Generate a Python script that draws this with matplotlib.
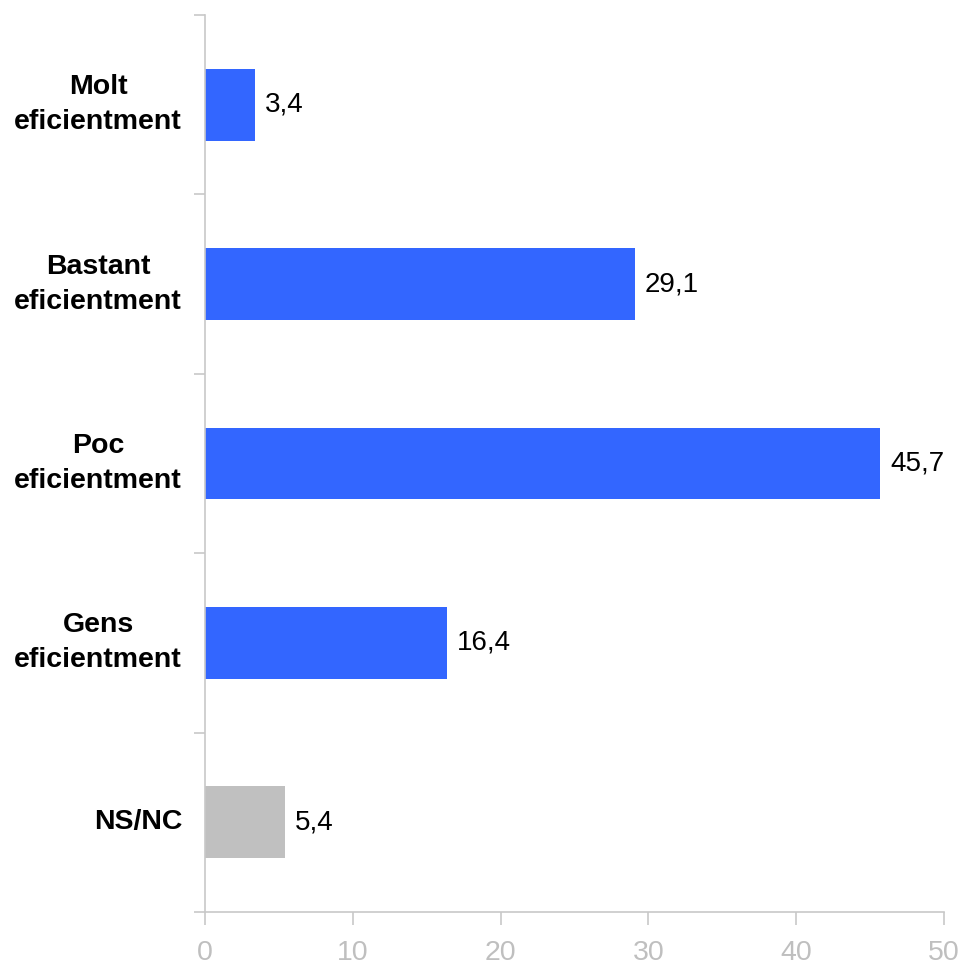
import matplotlib.pyplot as plt

plt.rcParams['font.family'] = ['Liberation Sans', 'DejaVu Sans']

categories = ['Molt\neficientment', 'Bastant\neficientment', 'Poc\neficientment',
              'Gens\neficientment', 'NS/NC']
values = [3.4, 29.1, 45.7, 16.4, 5.4]
bar_colors = ['#3366ff', '#3366ff', '#3366ff', '#3366ff', '#c0c0c0']
x_ticks = [0, 10, 20, 30, 40, 50]

axis_col = '#c8c8c8'

fig = plt.figure(figsize=(9.64, 9.67), dpi=100)
ax = fig.add_axes([205 / 964, 1 - 912 / 967, 739 / 964, 897 / 967])

pos = list(range(len(values)))
ax.barh(pos, values, height=0.4, color=bar_colors)

for p, v in zip(pos, values):
    ax.text(v + 0.65, p, f'{v:.1f}'.replace('.', ','), va='center', ha='left',
            fontsize=20, color='black')

ax.set_ylim(len(values) - 0.5, -0.5)
ax.set_xlim(0, 50)

# category labels drawn by hand so they sit centred in each band
ax.set_yticks([i - 0.5 for i in range(len(values) + 1)])
ax.set_yticklabels([])
for p, c in zip(pos, categories):
    ax.annotate(c, xy=(0, p), xycoords=('axes fraction', 'data'),
                xytext=(-23, 0), textcoords='offset pixels',
                ha='right', va='center', multialignment='center',
                fontsize=20.5, fontweight='bold', linespacing=1.45)

ax.set_xticks(x_ticks)
ax.set_xticklabels([str(t) for t in x_ticks], fontsize=20.5, color='#bfbfbf')

for s in ['top', 'right']:
    ax.spines[s].set_visible(False)
for s in ['left', 'bottom']:
    ax.spines[s].set_color(axis_col)
    ax.spines[s].set_linewidth(1.2)

ax.tick_params(axis='y', length=8, color=axis_col, width=1.2)
ax.tick_params(axis='x', length=9, color=axis_col, width=1.2, pad=11)

fig.savefig('out.png', dpi=100)
